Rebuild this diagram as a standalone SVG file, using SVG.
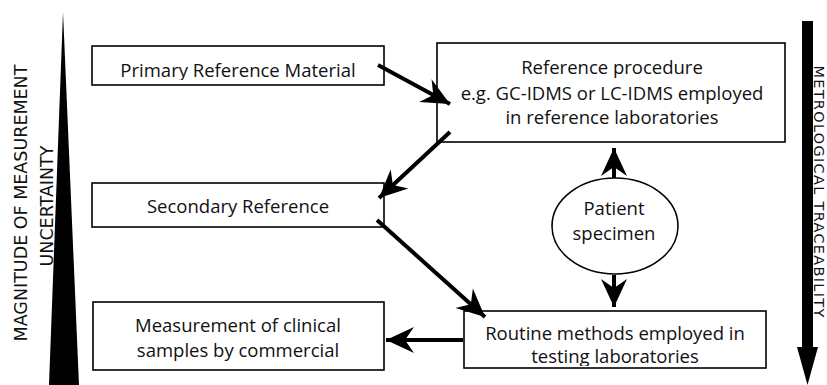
<svg xmlns="http://www.w3.org/2000/svg" width="827" height="385" viewBox="0 0 827 385">
<style>
.box{fill:#fff;stroke:#000;stroke-width:1.6}
.t{font-family:"Open Sans","Liberation Sans",sans-serif;font-size:18.5px;fill:#111;text-anchor:middle}
.side{font-family:"DejaVu Sans","Liberation Sans",sans-serif;font-size:17.5px;fill:#111;text-anchor:middle}
.con{stroke:#000;stroke-width:4;fill:none}
</style>
<defs>
<marker id="ah" markerUnits="userSpaceOnUse" viewBox="-30 -14 32 28" refX="0" refY="0" markerWidth="32" markerHeight="28" orient="auto">
<path d="M0,0 L-28,-13 L-19,0 L-28,13 Z" fill="#000"/>
</marker>
<clipPath id="cp1"><rect x="92" y="46" width="292" height="34"/></clipPath>
<clipPath id="cp2"><rect x="464" y="311" width="302" height="55"/></clipPath>
</defs>
<rect width="827" height="385" fill="#fff"/>
<g id="uncertainty">
<polygon points="63,12 49,385 79,385" fill="#000"/>
<text class="side" transform="translate(27,203) rotate(-90)">MAGNITUDE OF MEASUREMENT</text>
<text class="side" transform="translate(53,206) rotate(-90)">UNCERTAINTY</text>
</g>
<g id="traceability">
<rect x="802" y="21" width="11" height="328" fill="#000"/>
<polygon points="797,347 818,347 807.5,385" fill="#000"/>
<text class="side" style="font-size:14.5px;letter-spacing:1.3px" transform="translate(813.5,192) rotate(90)">METROLOGICAL TRACEABILITY</text>
</g>
<g id="primary">
<rect class="box" x="92" y="46" width="292" height="39"/>
<text class="t" x="238" y="77" clip-path="url(#cp1)">Primary Reference Material</text>
</g>
<g id="refproc">
<rect class="box" x="437" y="43" width="348" height="99"/>
<text class="t" x="612" y="74">Reference procedure</text>
<text class="t" x="612" y="100">e.g. GC-IDMS or LC-IDMS employed</text>
<text class="t" x="612" y="124">in reference laboratories</text>
</g>
<g id="secondary">
<rect class="box" x="92" y="183" width="292" height="44"/>
<text class="t" x="238" y="213">Secondary Reference</text>
</g>
<g id="patient">
<ellipse class="box" cx="615" cy="226" rx="63" ry="48"/>
<text class="t" x="614" y="215">Patient</text>
<text class="t" x="614" y="240">specimen</text>
</g>
<g id="routine">
<rect class="box" x="464" y="311" width="302" height="57"/>
<text class="t" x="615" y="340">Routine methods employed in</text>
<text class="t" x="615" y="363" clip-path="url(#cp2)">testing laboratories</text>
</g>
<g id="clinical">
<rect class="box" x="93" y="302" width="291" height="68"/>
<text class="t" x="238" y="332">Measurement of clinical</text>
<text class="t" x="238" y="357">samples by commercial</text>
</g>
<g id="connectors">
<line class="con" x1="378" y1="65" x2="450" y2="104" marker-end="url(#ah)"/>
<line class="con" x1="450" y1="132" x2="379" y2="198" marker-end="url(#ah)"/>
<line class="con" x1="377" y1="220" x2="485" y2="317" marker-end="url(#ah)"/>
<line class="con" x1="614" y1="178" x2="614" y2="148" marker-end="url(#ah)"/>
<line class="con" x1="614" y1="275" x2="614" y2="307" marker-end="url(#ah)"/>
<line class="con" x1="463" y1="340" x2="386" y2="340" marker-end="url(#ah)"/>
</g>
</svg>
